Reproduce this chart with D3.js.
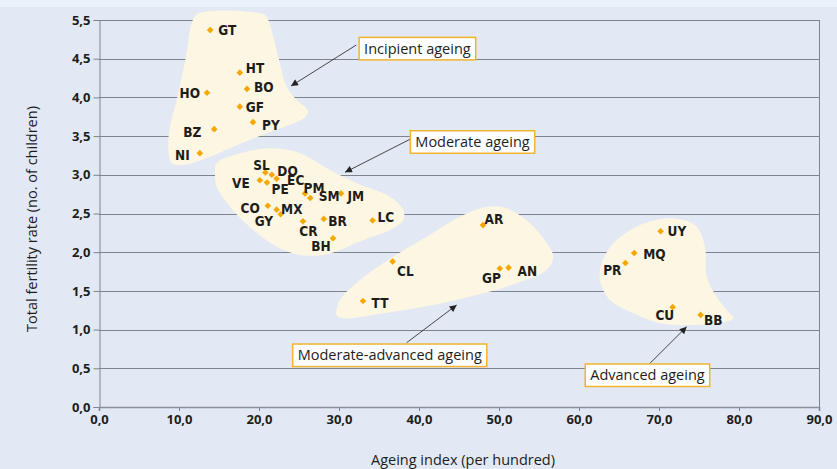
<!DOCTYPE html>
<html>
<head>
<meta charset="utf-8">
<script src="https://cdn.jsdelivr.net/npm/d3@7/dist/d3.min.js"></script>
<style>
  html, body { margin: 0; padding: 0; background: #e2e9f4; }
  svg { display: block; }
</style>
</head>
<body>
<svg id="chart" width="837" height="469"></svg>
<script>
// ---------------- DATA ----------------
const countries = ["GT","HT","BO","HO","GF","PY","BZ","NI",
  "SL","DO","EC","VE","PE","PM","SM","JM","CO","MX","GY","CR","BR","LC","BH",
  "AR","CL","GP","AN","TT",
  "UY","MQ","PR","CU","BB"];
const ageingIndex = [13.9,17.6,18.5,13.5,17.6,19.25,14.4,12.6,
  20.8,21.6,22.2,20.1,21.0,25.75,26.4,30.25,21.1,22.2,22.7,25.5,28.1,34.2,29.25,
  48.0,36.7,50.1,51.2,33.0,
  70.2,66.9,65.8,71.7,75.2];
const fertilityRate = [4.87,4.32,4.11,4.06,3.88,3.68,3.59,3.28,
  3.03,3.00,2.95,2.93,2.90,2.76,2.70,2.76,2.60,2.55,2.49,2.40,2.43,2.41,2.18,
  2.35,1.88,1.79,1.80,1.37,
  2.27,1.99,1.86,1.29,1.19];

const xTickValues = [0,10,20,30,40,50,60,70,80,90];
const xTickLabels = ["0,0","10,0","20,0","30,0","40,0","50,0","60,0","70,0","80,0","90,0"];
const yTickValues = [0,0.5,1,1.5,2,2.5,3,3.5,4,4.5,5];
const yTickLabels = ["0,0","0,5","1,0","1,5","2,0","2,5","3,0","3,5","4,0","4,5","5,5"];

const xTitle = "Ageing index (per hundred)";
const yTitle = "Total fertility rate (no. of children)";

// group regions (outlines, in data units)
const regionIncipient = [[12.41,5.085],[20.75,5.065],[21.16,5.0],[22.41,4.526],[23.46,4.138],[24.71,3.966],[26.1,3.83],[25.75,3.74],[24.29,3.665],[20.96,3.536],[16.79,3.363],[13.875,3.234],[10.54,3.127],[9.09,3.149],[8.66,3.363],[8.875,3.621],[9.71,3.966],[10.96,4.569],[11.59,4.957]];
const regionModerate = [[14.71,3.149],[17.625,3.278],[21.79,3.342],[25.125,3.278],[28.875,3.062],[32.21,2.890],[36.375,2.717],[38.04,2.545],[38.04,2.416],[36.375,2.287],[33.04,2.158],[30.125,2.028],[28.04,1.964],[25.125,1.964],[22.21,2.071],[19.29,2.287],[16.375,2.588],[14.71,2.846],[14.5,3.019]];
const regionModAdvanced = [[48.46,2.588],[50.96,2.567],[53.875,2.373],[55.96,2.115],[56.79,1.942],[55.96,1.770],[52.21,1.598],[48.04,1.469],[41.79,1.318],[35.54,1.211],[30.54,1.146],[29.71,1.189],[30.125,1.382],[32.625,1.641],[36.79,1.942],[40.96,2.200],[45.125,2.459]];
const regionAdvanced = [[70.96,2.438],[73.04,2.416],[74.71,2.329],[75.75,2.071],[75.96,1.683],[77.21,1.425],[78.46,1.253],[79.29,1.146],[77.21,1.081],[73.46,1.059],[70.125,1.081],[66.79,1.211],[63.875,1.382],[62.625,1.641],[62.84,1.857],[64.29,2.115],[67.625,2.351]];

const annotationTexts = ["Incipient ageing","Moderate ageing","Moderate-advanced ageing","Advanced ageing"];
// box centre and arrow (from -> to) in data units
const annotationBoxCentres = [[39.8,4.63],[46.69,3.424],[36.34,0.668],[68.56,0.41]];
const annotationArrows = [[[32.16,4.677],[24.0,4.147]],[[38.875,3.459],[30.75,3.032]],[[38.46,0.831],[44.71,1.318]],[[68.79,0.556],[73.46,1.037]]];

// label placement relative to marker: [dx, dy, anchor]
const labelPlacement = {
  GT:[8,0,"start"], HT:[6,-4,"start"], BO:[7,-2,"start"], HO:[-7,0,"end"], GF:[6,0,"start"],
  PY:[9,3,"start"], BZ:[-13,3,"end"], NI:[-10,2,"end"],
  SL:[-4,-7,"middle"], DO:[5.5,-4,"start"], EC:[10.5,1,"start"], VE:[-10,3,"end"], PE:[4.5,7,"start"],
  PM:[-1.5,-5.5,"start"], SM:[8.5,-1.5,"start"], JM:[6.5,3,"start"], CO:[-8,2.5,"end"], MX:[4.5,0,"start"],
  GY:[-7.5,6.5,"end"], CR:[5.5,10,"middle"], BR:[4.5,2.3,"start"], LC:[5,-3.3,"start"], BH:[-2.3,7.4,"end"],
  AR:[1.5,-6.3,"start"], CL:[4.4,10,"start"], GP:[1,9.4,"end"], AN:[9,3.4,"start"], TT:[8.6,2,"start"],
  UY:[7,0,"start"], MQ:[9,1,"start"], PR:[-4,7.6,"end"], CU:[1.6,8.4,"end"], BB:[3.3,5.7,"start"]
};

// ---------------- DRAW ----------------
const W = 837, H = 469;
const svg = d3.select("#chart");
const x = d3.scaleLinear().domain([0,90]).range([99,819]);
const y = d3.scaleLinear().domain([0,5]).range([407,20]);

const boldFont = "'Liberation Sans Narrow','DejaVu Sans Condensed','Open Sans',sans-serif";
const tickFont = "'Open Sans','DejaVu Sans',sans-serif";
const textFont = "'Open Sans','Noto Sans',sans-serif";

svg.append("rect").attr("width",W).attr("height",H).attr("fill","#e2e9f4");
svg.append("rect").attr("width",W).attr("height",7).attr("fill","#eaf1f9");

// grid
svg.append("g").selectAll("line").data(yTickValues.filter(d=>d>0)).join("line")
  .attr("x1",x(0)).attr("x2",x(90))
  .attr("y1",d=>Math.round(y(d))+0.5).attr("y2",d=>Math.round(y(d))+0.5)
  .attr("stroke","#7e848e").attr("stroke-width",1);

// right border
svg.append("line").attr("x1",Math.round(x(90))+0.5).attr("x2",Math.round(x(90))+0.5)
  .attr("y1",y(5)).attr("y2",y(0)).attr("stroke","#7e848e");

// regions
const area = d3.line().x(d=>x(d[0])).y(d=>y(d[1])).curve(d3.curveCatmullRomClosed.alpha(0.5));
svg.append("g").selectAll("path")
  .data([regionIncipient,regionModerate,regionModAdvanced,regionAdvanced]).join("path")
  .attr("d",area).attr("fill","#fdf6e2").attr("stroke","none");

// axes
const yAxis = d3.axisLeft(y).tickValues(yTickValues).tickSize(6).tickPadding(3)
  .tickFormat((d,i)=>yTickLabels[i]);
const gy = svg.append("g").attr("transform",`translate(${Math.round(x(0))+0.5},0)`).call(yAxis);
gy.select(".domain").attr("stroke","#7e848e");
gy.selectAll(".tick line").attr("stroke","#7e848e");
gy.selectAll(".tick text").attr("font-family",tickFont).attr("font-weight","bold")
  .attr("font-size","13px").attr("fill","#1d1d1b");

const xAxis = d3.axisBottom(x).tickValues(xTickValues).tickSize(4).tickPadding(4)
  .tickFormat((d,i)=>xTickLabels[i]);
const gx = svg.append("g").attr("transform",`translate(0,${Math.round(y(0))})`).call(xAxis);
gx.select(".domain").attr("stroke","#8a8f98").attr("stroke-width",1.6);
gx.selectAll(".tick line").attr("stroke","#7e848e");
gx.selectAll(".tick text").attr("font-family",tickFont).attr("font-weight","bold")
  .attr("font-size","13px").attr("fill","#1d1d1b");

// titles
svg.append("text").text(xTitle).attr("x",463).attr("y",465).attr("text-anchor","middle")
  .attr("font-family",textFont).attr("font-size","14.5px").attr("fill","#1d1d1b");
svg.append("text").text(yTitle).attr("transform","translate(37,219) rotate(-90)")
  .attr("text-anchor","middle").attr("font-family",textFont).attr("font-size","14.5px").attr("fill","#1d1d1b");

// points
const pts = countries.map((c,i)=>({c, ax: ageingIndex[i], fr: fertilityRate[i]}));
svg.append("g").selectAll("path").data(pts).join("path")
  .attr("d", d3.symbol(d3.symbolSquare, 22)())
  .attr("transform", d=>`translate(${x(d.ax)},${y(d.fr)}) rotate(45)`)
  .attr("fill","#f6a800");

svg.append("g").selectAll("text").data(pts).join("text")
  .text(d=>d.c)
  .attr("x", d=>x(d.ax)+labelPlacement[d.c][0])
  .attr("y", d=>y(d.fr)+labelPlacement[d.c][1])
  .attr("dy","0.36em")
  .attr("text-anchor", d=>labelPlacement[d.c][2])
  .attr("font-family",boldFont).attr("font-weight","bold").attr("font-size","13.5px")
  .attr("fill","#1d1d1b");

// annotations
const defs = svg.append("defs");
defs.append("marker").attr("id","arrow").attr("viewBox","0 0 10 10")
  .attr("refX",10).attr("refY",5).attr("markerWidth",10).attr("markerHeight",7)
  .attr("markerUnits","userSpaceOnUse").attr("orient","auto")
  .append("path").attr("d","M0,0 L10,5 L0,10 Z").attr("fill","#222");

const ga = svg.append("g");
annotationTexts.forEach((t,i)=>{
  const [from,to] = annotationArrows[i];
  ga.append("line").attr("x1",x(from[0])).attr("y1",y(from[1]))
    .attr("x2",x(to[0])).attr("y2",y(to[1]))
    .attr("stroke","#333").attr("stroke-width",0.9).attr("marker-end","url(#arrow)");
});
annotationTexts.forEach((t,i)=>{
  const cx = x(annotationBoxCentres[i][0]), cy = y(annotationBoxCentres[i][1]);
  const g = ga.append("g");
  const rect = g.append("rect");
  const txt = g.append("text").text(t).attr("x",cx).attr("y",cy).attr("dy","0.35em")
    .attr("text-anchor","middle").attr("font-family",textFont).attr("font-size","14.5px")
    .attr("fill","#1d1d1b");
  const w = txt.node().getComputedTextLength() + 10;
  const h = 22.5;
  rect.attr("x",cx-w/2).attr("y",cy-h/2).attr("width",w).attr("height",h)
    .attr("fill","#ffffff").attr("stroke","#f0b52e").attr("stroke-width",1.5);
});
</script>
</body>
</html>
